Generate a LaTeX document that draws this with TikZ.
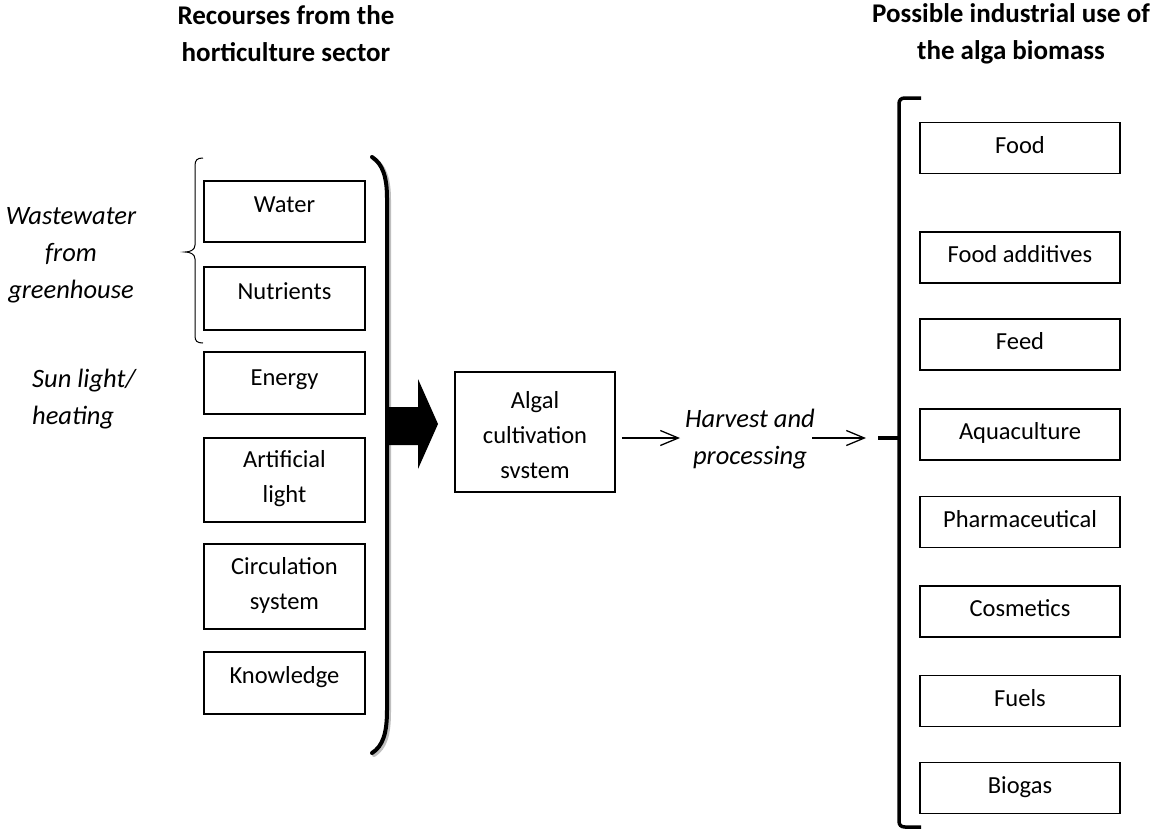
\documentclass[tikz,border=0pt]{standalone}
\usepackage{fontspec}
\setmainfont{Carlito}
\usetikzlibrary{arrows.meta,calc}
\begin{document}
\begin{tikzpicture}[x=1pt,y=-1pt,
  box/.style={draw, line width=1.6pt, inner sep=0pt},
  lbox/.style={box, minimum width=161pt},
  rbox/.style={box, minimum width=200pt, minimum height=51pt},
  txt/.style={inner sep=0pt, anchor=base, font=\fontsize{24.5}{34}\selectfont},
  mtxt/.style={inner sep=0pt, align=center, font=\fontsize{24.5}{35}\selectfont},
  ttl/.style={inner sep=0pt, align=center, font=\fontsize{27}{37}\selectfont\bfseries},
  itx/.style={inner sep=0pt, font=\fontsize{26.5}{37}\selectfont\itshape},
  conn/.style={line width=1.3pt, -{Straight Barb[length=18pt,width=15pt,line width=1.3pt]}}]
\useasboundingbox (0,0) rectangle (1152,831);

% titles
\node[ttl] (t1) at (286,34) {Recourses from the\\horticulture sector};
\node[ttl] (t2) at (1011,34) {Possible industrial use of\\the alga biomass};

% left boxes
\node[lbox, minimum height=61pt] (water) at (284.5,211.5) {};
\node[txt] (waterT) at (284.5,212) {Water};
\node[lbox, minimum height=63pt] (nutr) at (284.5,298.5) {};
\node[txt] (nutrT) at (284.5,299) {Nutrients};
\node[lbox, minimum height=62pt] (energy) at (284.5,383) {};
\node[txt] (energyT) at (284.5,385) {Energy};
\node[lbox, minimum height=84pt] (art) at (284.5,480) {};
\node[mtxt] (artT) at (284.5,479) {Artificial\\light};
\node[lbox, minimum height=85pt] (circ) at (284.5,586.5) {};
\node[mtxt] (circT) at (284.5,585) {Circulation\\system};
\node[lbox, minimum height=62pt] (know) at (284.5,683) {};
\node[txt] (knowT) at (284.5,683) {Knowledge};

% left labels
\node[itx, align=center] (waste) at (71,255) {Wastewater\\from\\greenhouse};
\node[itx, align=left, anchor=west] (sun) at (32,399) {Sun light/\\heating};

% small brace
\draw[line width=1pt] (203,158) .. controls (197,158) and (195,160) .. (195,166)
  -- (195,245) .. controls (195,250) and (190,252) .. (185,252)
  .. controls (190,252) and (195,254) .. (195,259)
  -- (195,336) .. controls (195,341) and (197,343) .. (203,343);

% big parenthesis
\draw[line width=4pt, black!25, line cap=round] (374,159) .. controls (385,166) and (389,180) .. (389,200)
  -- (389,712) .. controls (389,735) and (385,748) .. (374,755);
\draw[line width=4pt, line cap=round] (372,157) .. controls (383,164) and (387,178) .. (387,198)
  -- (387,710) .. controls (387,733) and (383,746) .. (372,753);

% block arrow
\fill (387,407) -- (418,407) -- (418,379) -- (438,424) -- (418,469) -- (418,445) -- (387,445) -- cycle;

% algal box
\node[box, minimum width=160pt, minimum height=120pt] (algal) at (535,432) {};
\node[mtxt] (algalT) at (535,435) {Algal\\cultivation\\svstem};

% harvest
\node[itx, align=center] (harv) at (750,439) {Harvest and\\processing};
\coordinate (a1e) at (680,438);
\draw[conn] (algal.east |- a1e) ++(6,0) -- (a1e);
\coordinate (a2s) at (812,438);
\draw[conn] (a2s) -- (866,438) coordinate (a2e);

% right bracket
\coordinate (bt) at (921,98);
\coordinate (bb) at (921,827);
\coordinate (bm) at (878,438);
\draw[line width=3.5pt] (bt) -- (905,98) .. controls (901,98) and (899,100) .. (899,104)
  -- (899,821) .. controls (899,825) and (901,827) .. (905,827) -- (bb);
\draw[line width=3.5pt] (899,438) -- (bm);

% right boxes
\foreach \nm/\y/\t in {food/148/Food, fadd/257.5/Food additives, feed/344.5/Feed, aqua/434.5/Aquaculture, pharm/522/Pharmaceutical, cosm/611.5/Cosmetics, fuel/701/Fuels, bio/788/Biogas}{
  \node[rbox] (\nm) at (1020,\y) {};
  \node[txt] (\nm T) at (1020,\y+5) {\t};
}
\end{tikzpicture}
\end{document}
